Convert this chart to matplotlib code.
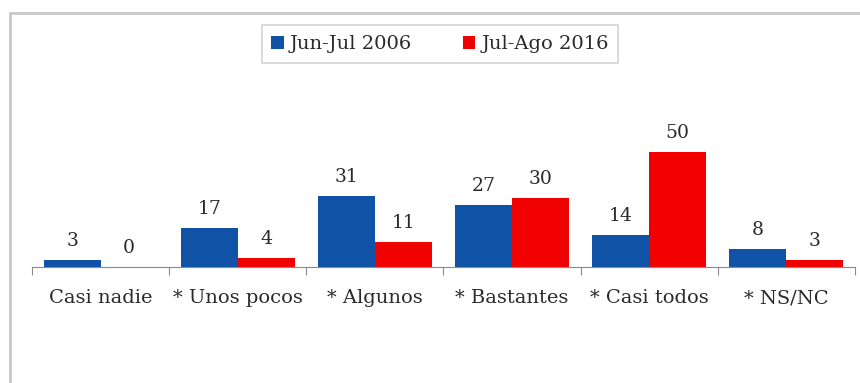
import numpy as np
import matplotlib.pyplot as plt
from matplotlib.patches import Rectangle

categorias = ["Casi nadie", "* Unos pocos", "* Algunos", "* Bastantes", "* Casi todos", "* NS/NC"]
serie_2006 = [3, 17, 31, 27, 14, 8]
serie_2016 = [0, 4, 11, 30, 50, 3]
etiquetas = ["Jun-Jul 2006", "Jul-Ago 2016"]

azul = "#1053A6"
rojo = "#F00000"

plt.rcParams['font.family'] = ['DejaVu Serif']

fig = plt.figure(figsize=(8.6, 3.83), dpi=100)
# chart frame (cut off at right and bottom in the original)
fig.patches.append(Rectangle((10/860, -0.1), 1.1, 1.1 - 13/383, transform=fig.transFigure,
                             fill=False, edgecolor="#c8c8c8", linewidth=2))

ax = fig.add_axes([32/860, 116/383, 823/860, 138/383])
x = np.arange(len(categorias))
w = 0.415
b1 = ax.bar(x - w/2, serie_2006, w, color=azul, label=etiquetas[0])
b2 = ax.bar(x + w/2, serie_2016, w, color=rojo, label=etiquetas[1])

for bars, vals in [(b1, serie_2006), (b2, serie_2016)]:
    for r, v in zip(bars, vals):
        ax.annotate(str(v), (r.get_x() + r.get_width()/2, v), xytext=(0, 7),
                    textcoords="offset points", ha="center", va="bottom",
                    fontsize=13.5, color="#2a2a2a")

ax.set_xlim(-0.5, len(categorias) - 0.5)
ax.set_ylim(0, 60)
for s in ["top", "right", "left"]:
    ax.spines[s].set_visible(False)
ax.spines["bottom"].set_color("#8a8a8a")
ax.set_yticks([])
ax.set_xticks(np.arange(len(categorias) + 1) - 0.5)
ax.set_xticklabels([])
ax.tick_params(axis="x", length=6, color="#8a8a8a")
ax.set_xticks(x, minor=True)
ax.set_xticklabels(categorias, minor=True, fontsize=14, color="#2a2a2a")
ax.tick_params(axis="x", which="minor", length=0, pad=16)

leg = fig.legend(loc="center", bbox_to_anchor=(440/860, 1 - 44/383), ncol=2,
                 fontsize=14, frameon=True, fancybox=False, edgecolor="#c8c8c8",
                 handlelength=0.65, handleheight=0.65, handletextpad=0.3,
                 columnspacing=2.6, borderpad=0.5, borderaxespad=0)
leg.get_frame().set_linewidth(1.2)
for t in leg.get_texts():
    t.set_color("#2a2a2a")

fig.savefig("out.png", dpi=100)
